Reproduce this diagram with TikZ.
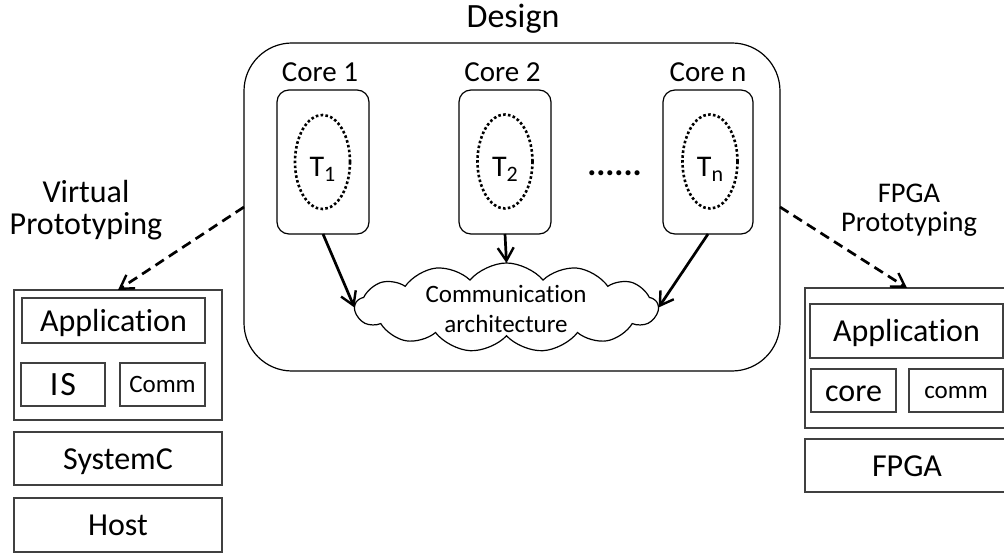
\documentclass[tikz,border=0pt]{standalone}
\usepackage{fontspec}
\setmainfont{Carlito}[Ligatures=NoCommon]
\usetikzlibrary{arrows.meta,shapes.symbols,shapes.geometric}

\newcommand\fsz[1]{\fontsize{#1}{#1}\selectfont}

\begin{document}
\begin{tikzpicture}[x=1pt,y=-1pt,
  every node/.style={inner sep=0pt, outer sep=0pt},
  frame/.style={draw=black, line width=1.2pt, rectangle, rounded corners=#1},
  frame/.default=12pt,
  layer/.style={draw=black!75, line width=1.2pt, rectangle, text depth=0pt},
  big/.style={font=\fsz{32}, text height=21.5pt},
  small/.style={font=\fsz{25}, text height=16.5pt},
  taskovl/.style={ellipse, draw, line width=2.6pt, dash pattern=on 2.6pt off 2.3pt,
    minimum width=55pt, minimum height=94pt, text height=30pt, text depth=0pt, font=\fsz{30}},
  flow/.style={-{Straight Barb[length=13pt,width=16pt,line width=2.4pt]}, line width=2.7pt},
  protoflow/.style={flow, dash pattern=on 10pt off 6pt},
]
\useasboundingbox (0,0) rectangle (1004,553);

% design frame with its cores
\node[frame=48pt, minimum width=536pt, minimum height=328pt] (design) at (512,207) {};
\node[anchor=base, font=\fsz{34}] (designlbl) at (513,28) {Design};

\node[frame, minimum width=92pt, minimum height=144pt] (core1) at (323,162) {};
\node[frame, minimum width=92pt, minimum height=144pt] (core2) at (505,162) {};
\node[frame, minimum width=90pt, minimum height=144pt] (coren) at (708,162) {};

\node[anchor=base, font=\fsz{29}] (core1lbl) at (320,82) {Core 1};
\node[anchor=base, font=\fsz{29}] (core2lbl) at (502.5,82) {Core 2};
\node[anchor=base, font=\fsz{29}] (corenlbl) at (708,82) {Core n};

\node[taskovl] (t1) at (322.5,162) {T\raisebox{-5pt}{\fsz{22}1}};
\node[taskovl] (t2) at (505,161.5) {T\raisebox{-5pt}{\fsz{22}2}};
\node[taskovl] (tn) at (710,161.5) {T\raisebox{-5pt}{\fsz{22}n}};

\node[anchor=base, font=\fsz{34}\bfseries] (dots) at (614.5,176) {......};

% communication architecture
\node[cloud, draw, line width=1.2pt, cloud puffs=13, cloud puff arc=100, cloud ignores aspect,
  minimum width=303pt, minimum height=89pt] (comm) at (506.5,307.5) {};
\node[align=center, font=\fsz{25}] (commlbl) at (506,309) {Communication\\[5pt]architecture};

\draw[flow] (core1.south) -- (comm.west);
\draw[flow] (core2.south) -- (comm.north);
\draw[flow] (coren.south) -- (comm.east);

% virtual prototyping stack
\node[align=center, font=\fsz{32}] (vplbl) at (86,210) {Virtual\\Prototyping};
\node[layer, minimum width=208pt, minimum height=130pt] (vpstack) at (118,355) {};
\node[layer, big, minimum width=183pt, minimum height=45pt] (vpapp) at (113.5,320.5) {Application};
\node[layer, big, minimum width=84pt, minimum height=43pt, font=\fsz{34}] (vpis) at (63,384.5) {I\kern2pt S};
\node[layer, small, minimum width=85pt, minimum height=43pt] (vpcomm) at (162.5,384.5) {Comm};
\node[layer, big, minimum width=208pt, minimum height=53pt] (systemc) at (118,458.5) {SystemC};
\node[layer, big, minimum width=208pt, minimum height=54pt] (host) at (118,525) {Host};

% FPGA prototyping stack
\node[align=center, font=\fsz{28.5}] (fplbl) at (909,210) {FPGA\\Prototyping};
\node[layer, minimum width=204pt, minimum height=140pt] (fpstack) at (907,358) {};
\node[layer, big, minimum width=193pt, minimum height=54pt] (fpapp) at (906.5,331) {Application};
\node[layer, big, minimum width=85pt, minimum height=43pt] (fpcore) at (853.5,390.5) {core};
\node[layer, small, minimum width=94pt, minimum height=43pt] (fpcomm) at (956,390.5) {comm};
\node[layer, big, minimum width=204pt, minimum height=53pt] (fpga) at (907,465.5) {FPGA};

% prototyping flows
\draw[protoflow] (design.west) -- (vpstack.north);
\draw[protoflow] (design.east) -- (fpstack.north);
\end{tikzpicture}
\end{document}
